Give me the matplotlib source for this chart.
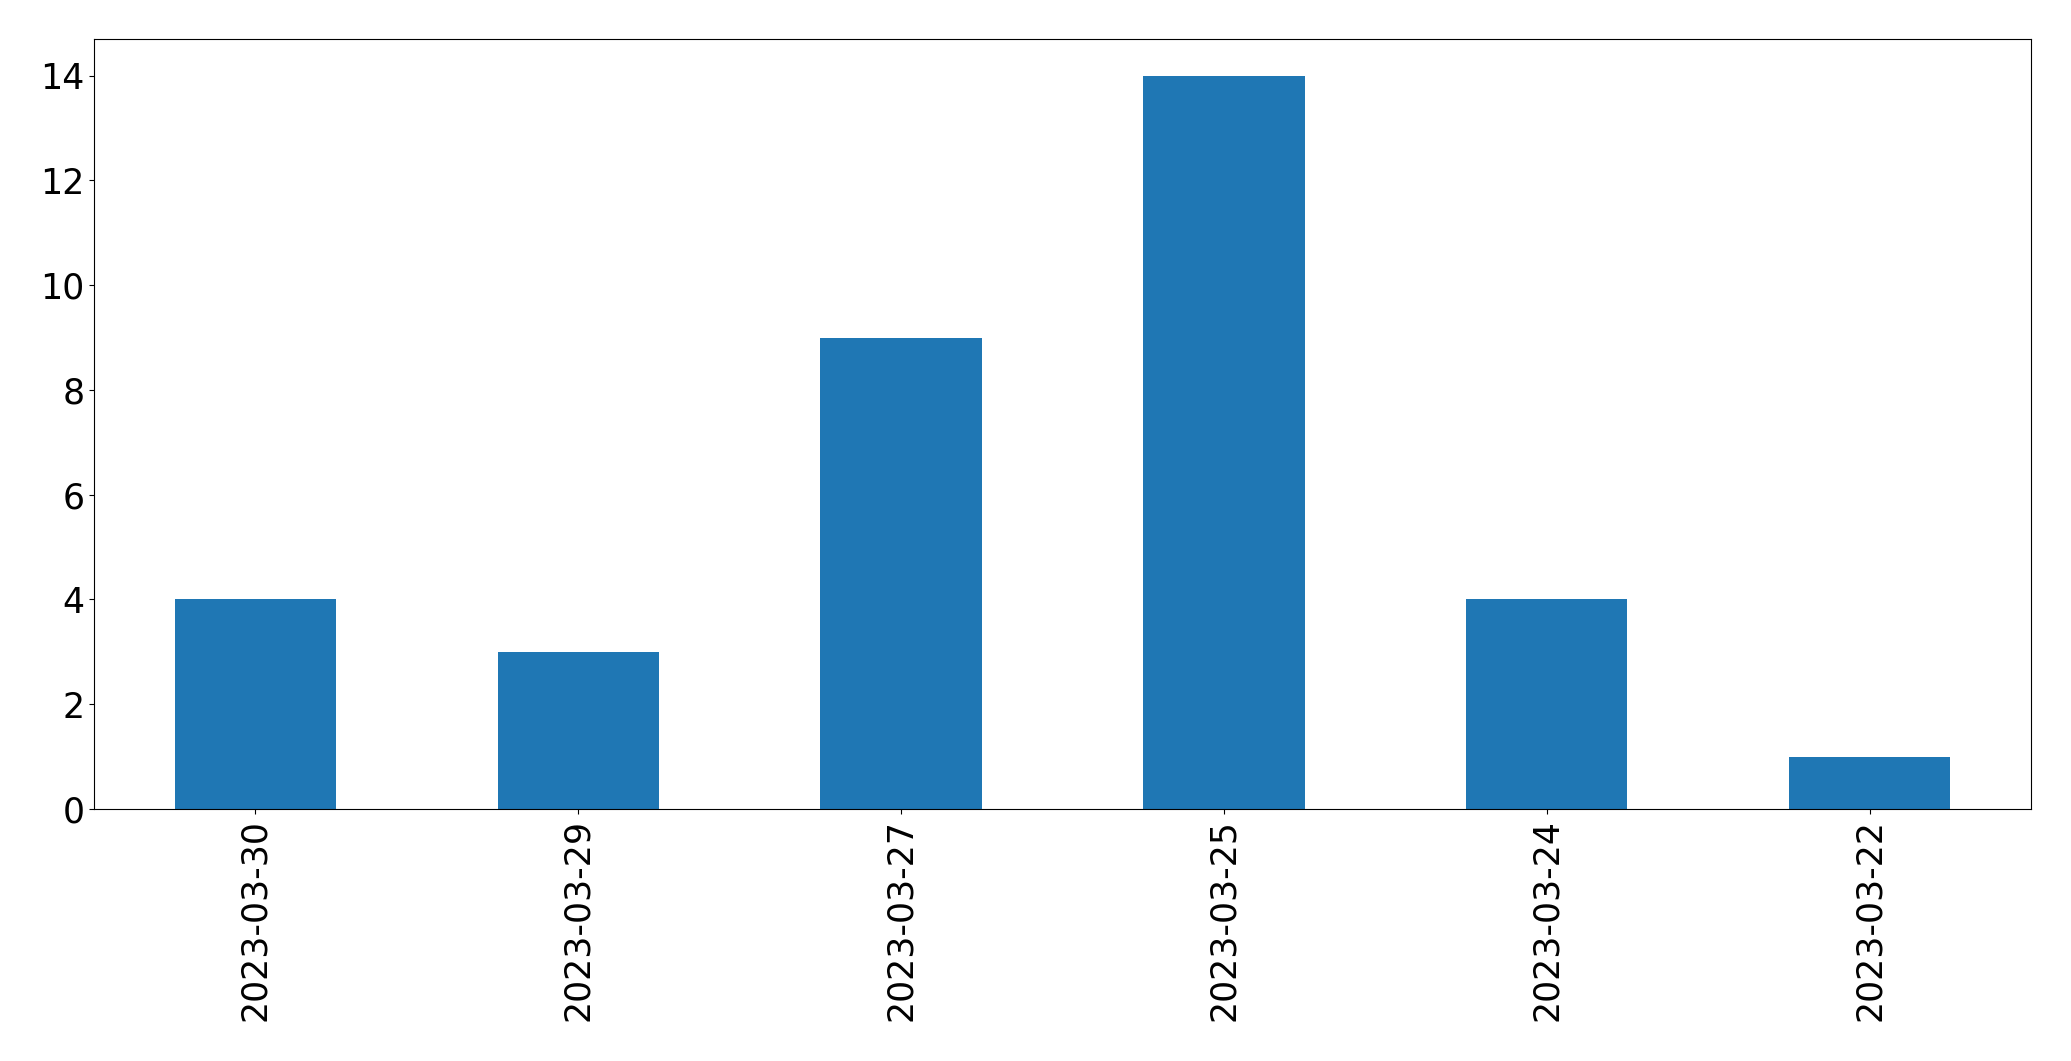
import pandas as pd
import matplotlib
matplotlib.use('Agg')
import matplotlib.pyplot as plt

dates = ['2023-03-30', '2023-03-29', '2023-03-27', '2023-03-25', '2023-03-24', '2023-03-22']
counts = [4, 3, 9, 14, 4, 1]

s = pd.Series(counts, index=dates)

fig = plt.figure(figsize=(20.71, 10.61), dpi=100)
ax = fig.add_axes([0.0454, 0.2375, 0.9353, 0.7257])
s.plot(kind='bar', ax=ax, color='#1f77b4', fontsize=25)
ax.tick_params(axis='both', labelsize=25)
fig.savefig('out.png', dpi=100)
